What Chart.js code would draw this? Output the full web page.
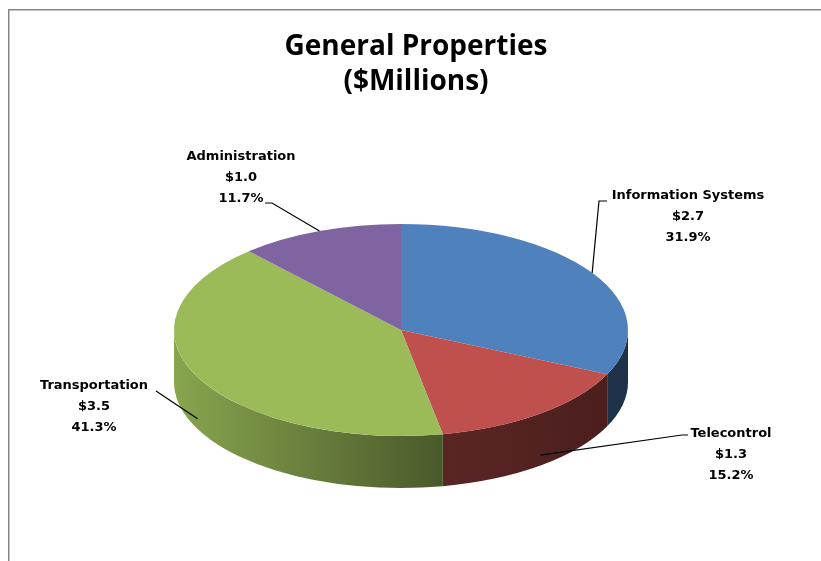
<!DOCTYPE html>
<html>
<head>
<meta charset="utf-8">
<title>General Properties</title>
<script src="https://cdn.jsdelivr.net/npm/chart.js@4.4.1/dist/chart.umd.min.js"></script>
<style>
    html, body { margin: 0; padding: 0; background: #fff; }
    canvas { display: block; }
</style>
</head>
<body>
<canvas id="gp-pie" width="821" height="561"></canvas>
<script>
// ─── data ───────────────────────────────────────────────────────────────
const categories = ['Information Systems', 'Telecontrol', 'Transportation', 'Administration'];
const amounts = [2.696, 1.284, 3.490, 0.989];   // $ millions
const sliceColors = ['#4F81BD', '#C0504D', '#9BBB59', '#8064A2'];
const titleLines = ['General Properties', '($Millions)'];

// ─── look ───────────────────────────────────────────────────────────────
const TILT = 106 / 227;     // vertical squash of the top face
const DEPTH = 52;           // height of the side wall
const TITLE_FONT = 'bold 28px "Liberation Sans Narrow", "Open Sans", sans-serif';
const LABEL_FONT = 'bold 13px "DejaVu Sans", Verdana, sans-serif';
const LINE_H = 21;

// where each label block sits and where its leader leaves the text
const labelLayout = [
    {x: 688, y: 196, leader: [[607, 201], [599, 201]]},
    {x: 731, y: 434, leader: [[688, 435], [682, 435]]},
    {x: 94,  y: 386, leader: [[156, 391]]},
    {x: 241, y: 157, leader: [[265, 203], [272, 203]]},
];

const total = amounts.reduce((a, b) => a + b, 0);

function shade(hex, k) {
    const n = parseInt(hex.slice(1), 16);
    const r = Math.round(((n >> 16) & 255) * k);
    const g = Math.round(((n >> 8) & 255) * k);
    const b = Math.round((n & 255) * k);
    return `rgb(${r},${g},${b})`;
}

// chart-area frame (top and left edge) and the two-line heading
const frame = {
    id: 'frame',
    beforeDraw(chart) {
        const ctx = chart.ctx;
        ctx.save();
        ctx.strokeStyle = '#878787';
        ctx.lineWidth = 1.5;
        ctx.beginPath();
        ctx.moveTo(821, 9.75);
        ctx.lineTo(8.75, 9.75);
        ctx.lineTo(8.75, 561);
        ctx.stroke();

        ctx.fillStyle = '#000';
        ctx.font = TITLE_FONT;
        ctx.textAlign = 'center';
        ctx.textBaseline = 'middle';
        titleLines.forEach((t, k) => ctx.fillText(t, 416, 47 + k * 35));
        ctx.restore();
    }
};

// fakes the tilted 3-D pie: side walls first, then the arcs squashed vertically
const pie3d = {
    id: 'pie3d',
    beforeDatasetsDraw(chart) {
        const ctx = chart.ctx;
        const arcs = chart.getDatasetMeta(0).data;
        const {x: cx, y: cy, outerRadius: r} = arcs[0];
        const ry = r * TILT;

        arcs.forEach((arc, i) => {
            const a0 = Math.max(arc.startAngle, 0);
            const a1 = Math.min(arc.endAngle, Math.PI);
            if (a1 <= a0) return;
            const base = sliceColors[i];
            const g = ctx.createLinearGradient(cx - r, 0, cx + r, 0);
            g.addColorStop(0, shade(base, 0.88));
            g.addColorStop(0.6, shade(base, 0.47));
            g.addColorStop(1, shade(base, 0.38));
            ctx.beginPath();
            ctx.ellipse(cx, cy, r, ry, 0, a0, a1);
            ctx.ellipse(cx, cy + DEPTH, r, ry, 0, a1, a0, true);
            ctx.closePath();
            ctx.fillStyle = g;
            ctx.fill();
        });

        ctx.save();
        ctx.translate(cx, cy);
        ctx.scale(1, TILT);
        ctx.translate(-cx, -cy);
    },
    afterDatasetsDraw(chart) {
        const ctx = chart.ctx;
        ctx.restore();

        const arcs = chart.getDatasetMeta(0).data;
        ctx.save();
        ctx.strokeStyle = '#000';
        ctx.lineWidth = 1.2;
        ctx.fillStyle = '#000';
        ctx.font = LABEL_FONT;
        ctx.textAlign = 'center';
        ctx.textBaseline = 'middle';

        arcs.forEach((arc, i) => {
            const {x: cx, y: cy, outerRadius: r} = arc;
            const mid = (arc.startAngle + arc.endAngle) / 2;
            const s = Math.sin(mid);
            let px = cx + r * Math.cos(mid);
            let py = cy + r * TILT * s;
            if (s > 0.3) py += DEPTH * 0.8;

            const lay = labelLayout[i];
            ctx.beginPath();
            lay.leader.forEach(([lx, ly], k) => k ? ctx.lineTo(lx, ly) : ctx.moveTo(lx, ly));
            ctx.lineTo(px, py);
            ctx.stroke();

            const pct = amounts[i] / total * 100;
            const lines = [categories[i], '$' + amounts[i].toFixed(1), pct.toFixed(1) + '%'];
            lines.forEach((t, k) => ctx.fillText(t, lay.x, lay.y + k * LINE_H));
        });
        ctx.restore();
    }
};

new Chart(document.getElementById('gp-pie'), {
    type: 'pie',
    data: {
        labels: categories,
        datasets: [{
            data: amounts,
            backgroundColor: sliceColors,
            borderWidth: 0,
        }],
    },
    options: {
        responsive: false,
        animation: false,
        devicePixelRatio: 1,
        events: [],
        // square 454px area centred on (401, 330) -> radius 227
        layout: {padding: {left: 174, right: 193, top: 103, bottom: 4}},
        plugins: {
            legend: {display: false},
            tooltip: {enabled: false},
            title: {display: false},
        },
    },
    plugins: [frame, pie3d],
});
</script>
</body>
</html>
